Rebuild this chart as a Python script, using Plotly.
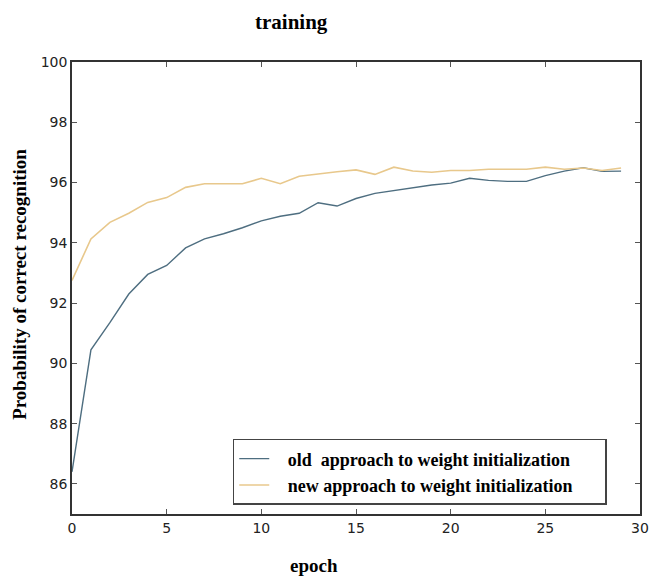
import plotly.graph_objects as go

# Accuracy per epoch for the two weight-initialization schemes
epochs = list(range(30))
old_init = [86.4, 90.45, 91.35, 92.3, 92.95, 93.25, 93.83, 94.13, 94.3, 94.5,
            94.73, 94.88, 94.98, 95.33, 95.22, 95.47, 95.64, 95.73, 95.84, 95.92,
            95.98, 96.14, 96.07, 96.04, 96.04, 96.23, 96.38, 96.49, 96.37, 96.38]
new_init = [92.75, 94.13, 94.68, 94.98, 95.34, 95.5, 95.84, 95.96, 95.96, 95.96,
            96.14, 95.96, 96.21, 96.29, 96.36, 96.42, 96.27, 96.51, 96.38, 96.34,
            96.4, 96.4, 96.44, 96.44, 96.44, 96.51, 96.44, 96.48, 96.4, 96.48]
series_names = ["old  approach to weight initialization",
                "new approach to weight initialization"]

x_ticks = [0, 5, 10, 15, 20, 25, 30]
y_ticks = [86, 88, 90, 92, 94, 96, 98, 100]

serif_bold = dict(family="Liberation Serif", color="black")
pad = "\u00a0" * 3

fig = go.Figure()
fig.add_trace(go.Scatter(x=epochs, y=old_init, mode="lines",
                         name=pad + "<b>" + series_names[0] + "</b>" + pad * 2,
                         line=dict(color="#4e6e80", width=1.4)))
fig.add_trace(go.Scatter(x=epochs, y=new_init, mode="lines",
                         name=pad + "<b>" + series_names[1] + "</b>" + pad * 2,
                         line=dict(color="#e8c88c", width=1.6)))

axis_common = dict(showgrid=False, zeroline=False, showline=True, linecolor="#333333",
                   linewidth=1.5, mirror="ticks", ticks="inside", ticklen=5,
                   tickcolor="#555555", tickfont=dict(family="DejaVu Sans", size=14, color="#222222"))

fig.update_xaxes(range=[0, 30], tickvals=x_ticks, **axis_common)
fig.update_yaxes(range=[85, 100], tickvals=y_ticks, **axis_common)

fig.update_layout(
    width=658, height=576,
    margin=dict(l=72, r=9, t=62, b=62),
    plot_bgcolor="white", paper_bgcolor="white",
    showlegend=True,
    legend=dict(x=0.283, y=0.02, xanchor="left", yanchor="bottom",
                bgcolor="white", bordercolor="#444444", borderwidth=1.5,
                font=dict(family="Liberation Serif", size=18, color="black"),
                itemwidth=30, tracegroupgap=0),
    annotations=[
        dict(text="<b>training</b>", xref="paper", yref="paper",
             x=0.386, y=1.0, xanchor="center", yanchor="middle", yshift=40,
             showarrow=False, font=dict(size=21, **serif_bold)),
        dict(text="<b>epoch</b>", xref="paper", yref="paper",
             x=0.426, y=0.0, xanchor="center", yanchor="middle", yshift=-51,
             showarrow=False, font=dict(size=19, **serif_bold)),
        dict(text="<b>Probability of correct recognition</b>", xref="paper", yref="paper",
             x=0.0, y=0.507, xanchor="center", yanchor="middle", xshift=-52,
             textangle=-90, showarrow=False, font=dict(size=19, **serif_bold)),
    ],
)

fig.write_html("out.html")
